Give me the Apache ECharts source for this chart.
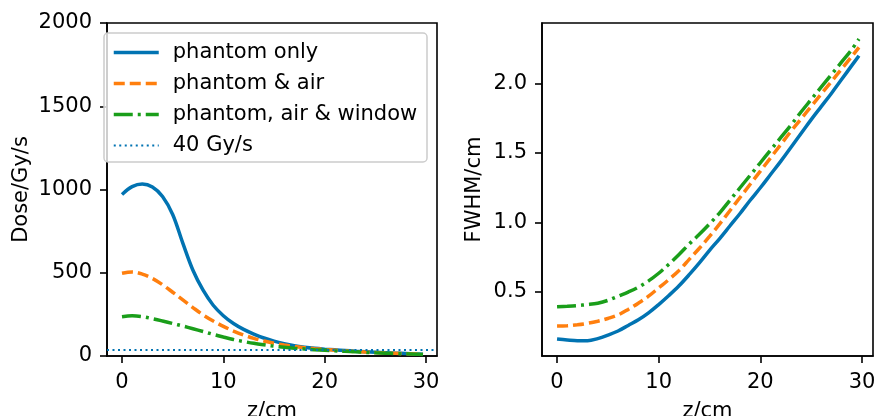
<!DOCTYPE html>
<html>
<head>
<meta charset="utf-8">
<script src="https://cdn.jsdelivr.net/npm/echarts@6/dist/echarts.min.js"></script>
<style>
  html, body { margin: 0; padding: 0; background: #fff; }
  #chart { width: 875px; height: 416px; }
</style>
</head>
<body>
<div id="chart"></div>
<script>
// depth along z (cm)
var zs = [0, 1, 2, 3, 4, 5, 6, 7, 8, 9, 10, 11, 12, 13, 14, 15, 16, 17, 18, 19, 20,
          21, 22, 23, 24, 25, 26, 27, 28, 29, 29.7];

// dose rate (Gy/s)
var doseOnly   = [970, 1017, 1033, 1015, 958, 850, 678, 515, 395, 305, 242, 195, 160, 132, 108, 89, 74, 62, 53, 46, 41,
                  37, 33, 29, 26, 23, 20, 17, 15, 12, 11];
var doseAir    = [497, 505, 492, 466, 428, 383, 337, 291, 247, 210, 178, 150, 126, 106, 90, 77, 66, 57, 50, 44, 39,
                  35, 31, 27, 24, 21, 18, 16, 14, 12, 10];
var doseWindow = [236, 241, 236, 224, 210, 195, 180, 164, 147, 130, 114, 99, 87, 76, 67, 59, 53, 47, 42, 38, 35,
                  31, 28, 25, 22, 19, 17, 15, 13, 11, 9];
var doseLimit = 40;

// beam width FWHM (cm)
var fwhmOnly   = [0.162, 0.155, 0.150, 0.150, 0.165, 0.19, 0.22, 0.26, 0.30, 0.35, 0.41, 0.475, 0.545, 0.625, 0.71,
                  0.80, 0.885, 0.975, 1.065, 1.16, 1.25, 1.345, 1.44, 1.54, 1.64, 1.74, 1.835, 1.93, 2.03, 2.13, 2.20];
var fwhmAir    = [0.256, 0.258, 0.265, 0.275, 0.29, 0.31, 0.335, 0.375, 0.42, 0.47, 0.53, 0.59, 0.655, 0.735, 0.815,
                  0.90, 0.99, 1.085, 1.18, 1.275, 1.37, 1.465, 1.56, 1.655, 1.745, 1.835, 1.925, 2.015, 2.105, 2.195, 2.26];
var fwhmWindow = [0.394, 0.398, 0.403, 0.41, 0.42, 0.44, 0.47, 0.50, 0.535, 0.58, 0.635, 0.70, 0.77, 0.845, 0.915,
                  0.99, 1.07, 1.16, 1.25, 1.34, 1.43, 1.52, 1.61, 1.70, 1.795, 1.885, 1.975, 2.065, 2.155, 2.245, 2.32];

var names = ['phantom only', 'phantom & air', 'phantom, air & window', '40 Gy/s'];
var xTicks = [0, 10, 20, 30];
var fwhmTicks = [0.5, 1.0, 1.5, 2.0];

var blue = '#0173b2', orange = '#ff7f0e', green = '#1a9e1a';
var font = 'DejaVu Sans';

function pairs(ys) {
  return zs.map(function (z, i) { return [z, ys[i]]; });
}

function xAxisOf(gi) {
  return {
    type: 'value', gridIndex: gi, min: -1.48, max: 31.08,
    name: 'z/cm', nameLocation: 'middle', nameGap: 45,
    nameTextStyle: { fontFamily: font, fontSize: 21, color: '#000' },
    axisLine: { show: true, onZero: false, lineStyle: { color: '#000', width: 1.6 } },
    axisTick: { show: true, customValues: xTicks, length: 7, lineStyle: { color: '#000', width: 1.6 } },
    axisLabel: { customValues: xTicks, margin: 16, fontFamily: font, fontSize: 21, color: '#000' },
    splitLine: { show: false }
  };
}

var lineW = 3.5;
var smoothK = 0.35;
var dashed = [11, 5], dashDot = [19, 5, 3, 5], dotted = [2, 3.5];

var chart = echarts.init(document.getElementById('chart'));
chart.setOption({
  animation: false,
  backgroundColor: '#fff',
  grid: [
    { left: 107, top: 23, width: 330, height: 333, show: true, borderColor: '#000', borderWidth: 1.6, outerBoundsMode: 'none' },
    { left: 542, top: 23, width: 331, height: 333, show: true, borderColor: '#000', borderWidth: 1.6, outerBoundsMode: 'none' }
  ],
  xAxis: [xAxisOf(0), xAxisOf(1)],
  yAxis: [
    {
      type: 'value', gridIndex: 0, min: 0, max: 2000, interval: 500,
      name: 'Dose/Gy/s', nameLocation: 'middle', nameGap: 75,
      nameTextStyle: { fontFamily: font, fontSize: 21, color: '#000' },
      axisLine: { show: true, onZero: false, lineStyle: { color: '#000', width: 1.6 } },
      axisTick: { show: true, length: 7, lineStyle: { color: '#000', width: 1.6 } },
      axisLabel: { margin: 15, fontFamily: font, fontSize: 21, color: '#000',
        formatter: function (v) { return String(v); } },
      splitLine: { show: false }
    },
    {
      type: 'value', gridIndex: 1, min: 0.04, max: 2.435,
      name: 'FWHM/cm', nameLocation: 'middle', nameGap: 57,
      nameTextStyle: { fontFamily: font, fontSize: 21, color: '#000' },
      axisLine: { show: true, onZero: false, lineStyle: { color: '#000', width: 1.6 } },
      axisTick: { show: true, customValues: fwhmTicks, length: 7, lineStyle: { color: '#000', width: 1.6 } },
      axisLabel: {
        customValues: fwhmTicks, margin: 15, fontFamily: font, fontSize: 21, color: '#000',
        formatter: function (v) { return v.toFixed(1); }
      },
      splitLine: { show: false }
    }
  ],
  legend: {
    data: [
      { name: names[0], lineStyle: { width: lineW } },
      { name: names[1], lineStyle: { width: lineW, type: dashed } },
      { name: names[2], lineStyle: { width: lineW, type: dashDot } },
      { name: names[3], lineStyle: { width: 2, type: dotted } }
    ],
    orient: 'vertical',
    left: 112, top: 42, padding: 0,
    itemWidth: 45, itemHeight: 14, itemGap: 10,
    itemStyle: { opacity: 0 },
    textStyle: { fontFamily: font, fontSize: 21, color: '#000', lineHeight: 21, padding: [0, 0, 0, 9] }
  },
  graphic: [{
    type: 'rect', z: 3,
    shape: { x: 104, y: 33, width: 323, height: 129, r: 4 },
    style: { fill: 'rgba(255,255,255,0.8)', stroke: '#cccccc', lineWidth: 1.5 }
  }],
  series: [
    { name: names[0], type: 'line', xAxisIndex: 0, yAxisIndex: 0, symbol: 'none', smooth: smoothK,
      color: blue, lineStyle: { width: lineW, color: blue }, data: pairs(doseOnly) },
    { name: names[1], type: 'line', xAxisIndex: 0, yAxisIndex: 0, symbol: 'none', smooth: smoothK,
      color: orange, lineStyle: { width: lineW, color: orange, type: dashed }, data: pairs(doseAir) },
    { name: names[2], type: 'line', xAxisIndex: 0, yAxisIndex: 0, symbol: 'none', smooth: smoothK,
      color: green, lineStyle: { width: lineW, color: green, type: dashDot }, data: pairs(doseWindow) },
    { name: names[3], type: 'line', xAxisIndex: 0, yAxisIndex: 0, symbol: 'none',
      color: blue, lineStyle: { width: 2, color: blue, type: dotted }, data: [],
      markLine: {
        silent: true, symbol: 'none', label: { show: false },
        lineStyle: { width: 2, color: blue, type: dotted },
        data: [{ yAxis: doseLimit }]
      } },
    { name: names[0], type: 'line', xAxisIndex: 1, yAxisIndex: 1, symbol: 'none', smooth: smoothK,
      color: blue, lineStyle: { width: lineW, color: blue }, data: pairs(fwhmOnly) },
    { name: names[1], type: 'line', xAxisIndex: 1, yAxisIndex: 1, symbol: 'none', smooth: smoothK,
      color: orange, lineStyle: { width: lineW, color: orange, type: dashed }, data: pairs(fwhmAir) },
    { name: names[2], type: 'line', xAxisIndex: 1, yAxisIndex: 1, symbol: 'none', smooth: smoothK,
      color: green, lineStyle: { width: lineW, color: green, type: dashDot }, data: pairs(fwhmWindow) }
  ]
});
</script>
</body>
</html>
